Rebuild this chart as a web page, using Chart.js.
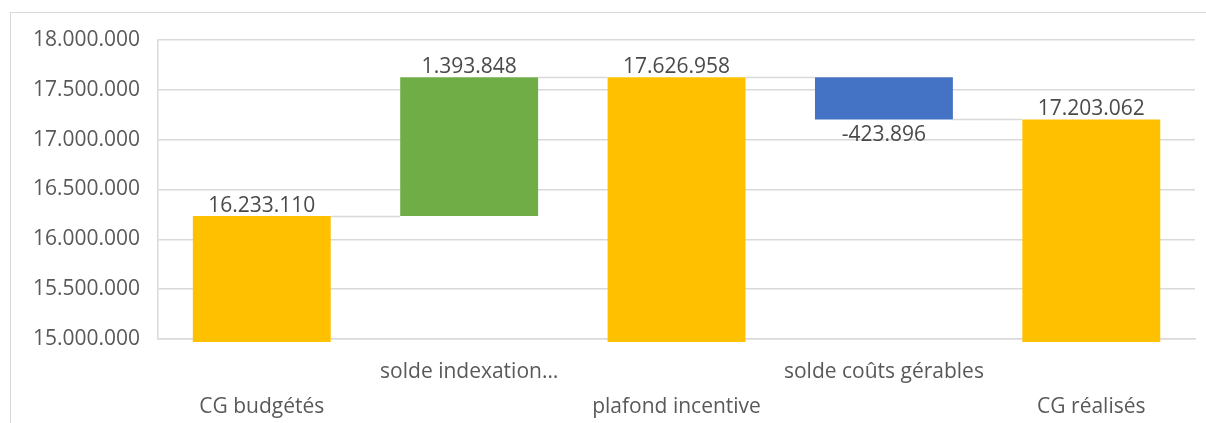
<!DOCTYPE html>
<html>
<head>
<meta charset="utf-8">
<script src="https://cdn.jsdelivr.net/npm/chart.js@4/dist/chart.umd.min.js"></script>
<style>
  html, body { margin: 0; padding: 0; background: #fff; overflow: hidden; }
  #wrap { position: relative; width: 1206px; height: 423px; }
  #frame { position: absolute; left: 10px; top: 12px; width: 1200px; height: 430px; border: 1px solid #d9d9d9; box-sizing: border-box; }
  canvas { position: absolute; left: 0; top: 0; }
</style>
</head>
<body>
<div id="wrap">
  <div id="frame"></div>
  <canvas id="waterfall" width="1206" height="423"></canvas>
</div>
<script>
// Waterfall: budget -> indexation -> incentive ceiling -> manageable costs -> actual
const categories = ['CG budgétés', 'solde indexation…', 'plafond incentive', 'solde coûts gérables', 'CG réalisés'];
const amounts = [16233110, 1393848, 17626958, -423896, 17203062];
const isTotal = [true, false, true, false, true];
const barColors = ['#FFC000', '#70AD47', '#FFC000', '#4472C4', '#FFC000'];
const yMin = 15000000;
const yMax = 18000000;
const yStep = 500000;
const barFloor = 14970000; // totals start a touch under the axis

// floating [from, to] ranges and the running level after each step
const ranges = [];
const levels = [];
let running = 0;
amounts.forEach((v, i) => {
    if (isTotal[i]) {
        ranges.push([barFloor, v]);
        running = v;
    } else {
        ranges.push([Math.min(running, running + v), Math.max(running, running + v)]);
        running += v;
    }
    levels.push(running);
});

function fmt(n) {
    const s = Math.abs(n).toString().replace(/\B(?=(\d{3})+(?!\d))/g, '.');
    return (n < 0 ? '-' : '') + s;
}

const FONT = "'Open Sans', 'Liberation Sans', sans-serif";

const connectors = {
    id: 'connectors',
    beforeDatasetsDraw(chart) {
        const ctx = chart.ctx;
        const bars = chart.getDatasetMeta(0).data;
        const y = chart.scales.y;
        ctx.save();
        ctx.strokeStyle = '#d9d9d9';
        ctx.lineWidth = 1.5;
        for (let i = 0; i < bars.length - 1; i++) {
            const py = Math.round(y.getPixelForValue(levels[i])) + 0.5;
            ctx.beginPath();
            ctx.moveTo(bars[i].x + bars[i].width / 2, py);
            ctx.lineTo(bars[i + 1].x - bars[i + 1].width / 2, py);
            ctx.stroke();
        }
        ctx.restore();
    }
};

const valueLabels = {
    id: 'valueLabels',
    afterDatasetsDraw(chart) {
        const ctx = chart.ctx;
        const bars = chart.getDatasetMeta(0).data;
        ctx.save();
        ctx.font = '21px ' + FONT;
        ctx.fillStyle = '#4a4a4a';
        ctx.textAlign = 'center';
        bars.forEach((bar, i) => {
            const v = amounts[i];
            const top = Math.min(bar.y, bar.base);
            const bottom = Math.max(bar.y, bar.base);
            if (v < 0) {
                ctx.textBaseline = 'top';
                ctx.fillText(fmt(v), bar.x, bottom + 5);
            } else {
                ctx.textBaseline = 'bottom';
                ctx.fillText(fmt(v), bar.x, top);
            }
        });
        ctx.restore();
    }
};

new Chart(document.getElementById('waterfall'), {
    type: 'bar',
    data: {
        labels: categories,
        datasets: [{
            data: ranges,
            backgroundColor: barColors,
            borderWidth: 0,
            borderSkipped: false,
            barPercentage: 0.665,
            categoryPercentage: 1,
            clip: false
        }]
    },
    options: {
        responsive: false,
        animation: false,
        layout: { padding: { left: 15, right: 11, top: 40, bottom: 3 } },
        plugins: {
            legend: { display: false },
            tooltip: { enabled: false }
        },
        scales: {
            x: {
                z: 1,
                grid: { display: false, drawTicks: false },
                border: { display: true, color: '#d9d9d9', width: 1.5 },
                afterFit: scale => { scale.height = 81; },
                ticks: {
                    color: '#595959',
                    font: { family: FONT, size: 21, lineHeight: 1.65 },
                    padding: 16,
                    maxRotation: 0,
                    autoSkip: false,
                    callback: (val, i) => i % 2 === 0 ? ['', categories[i]] : [categories[i], '']
                }
            },
            y: {
                min: yMin,
                max: yMax,
                grid: { color: '#d9d9d9', lineWidth: 1.5, drawTicks: false },
                border: { display: true, color: '#d9d9d9', width: 1.5 },
                ticks: {
                    stepSize: yStep,
                    color: '#595959',
                    font: { family: FONT, size: 21 },
                    padding: 18,
                    callback: v => fmt(v)
                }
            }
        }
    },
    plugins: [connectors, valueLabels]
});
</script>
</body>
</html>
